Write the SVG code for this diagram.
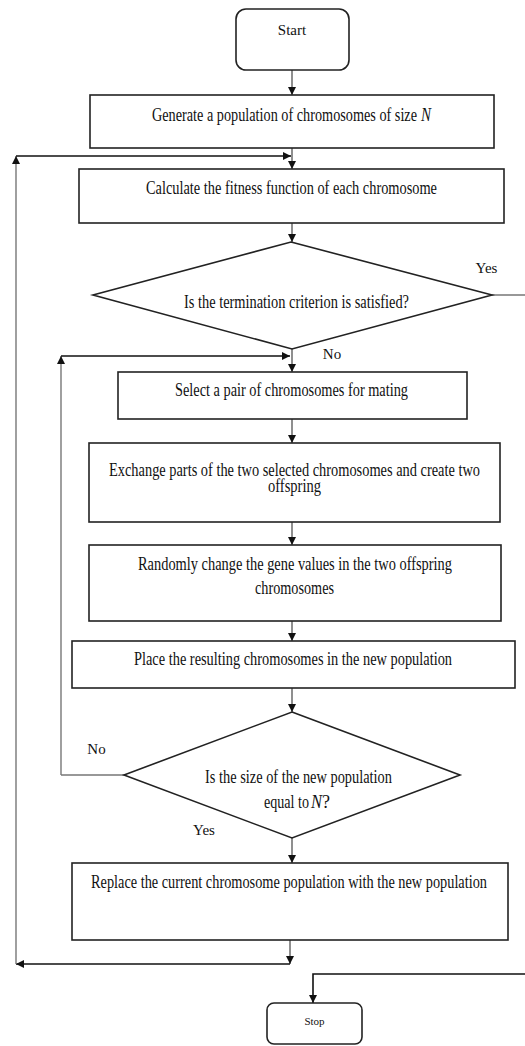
<svg xmlns="http://www.w3.org/2000/svg" width="525" height="1046" viewBox="0 0 525 1046">
<defs>
<style>
.box{fill:#fff;stroke:#222;stroke-width:1.6}
.t{font-family:"Liberation Serif","Times New Roman",serif;font-size:18px;fill:#111;text-anchor:middle}
.s{font-family:"Liberation Serif","Times New Roman",serif;font-size:18px;fill:#111;text-anchor:start}
.lbl{font-family:"Liberation Serif","Times New Roman",serif;font-size:15px;fill:#111;text-anchor:middle}
.c{fill:none;stroke:#333;stroke-width:1.1}
.k{fill:none;stroke:#111;stroke-width:1.6}
.g{fill:none;stroke:#777;stroke-width:1.4}
</style>
<marker id="ah" viewBox="0 0 10 10" refX="10" refY="5" markerWidth="8" markerHeight="8" markerUnits="userSpaceOnUse" orient="auto">
<path d="M0,0 L10,5 L0,10 Z" fill="#111"/>
</marker>
</defs>
<rect width="525" height="1046" fill="#fff"/>

<g id="connectors">
<line class="c" x1="292" y1="70" x2="292" y2="95" marker-end="url(#ah)"/>
<line class="c" x1="292" y1="148" x2="292" y2="169" marker-end="url(#ah)"/>
<line class="c" x1="292" y1="223" x2="292" y2="242" marker-end="url(#ah)"/>
<line class="c" x1="292" y1="349" x2="292" y2="372" marker-end="url(#ah)"/>
<line class="c" x1="292" y1="419" x2="292" y2="443" marker-end="url(#ah)"/>
<line class="c" x1="292" y1="522" x2="292" y2="545" marker-end="url(#ah)"/>
<line class="c" x1="292" y1="621" x2="292" y2="641" marker-end="url(#ah)"/>
<line class="c" x1="292" y1="688" x2="292" y2="712" marker-end="url(#ah)"/>
<line class="c" x1="292" y1="838" x2="292" y2="863" marker-end="url(#ah)"/>
<line class="c" x1="290" y1="940" x2="290" y2="964" marker-end="url(#ah)"/>
<!-- outer loop -->
<line class="k" x1="290" y1="964" x2="16" y2="964" marker-end="url(#ah)"/>
<line class="g" x1="16" y1="964" x2="16" y2="156" marker-end="url(#ah)"/>
<line class="k" x1="16" y1="156" x2="291" y2="156" marker-end="url(#ah)"/>
<!-- inner loop -->
<line class="c" x1="124" y1="775" x2="61" y2="775"/>
<line class="g" x1="61" y1="775" x2="61" y2="356" marker-end="url(#ah)"/>
<line class="k" x1="61" y1="356" x2="290" y2="356" marker-end="url(#ah)"/>
<!-- yes to stop -->
<path class="c" d="M492,295 H525"/>
<path class="k" d="M525,974 H313 V1003" marker-end="url(#ah)"/>
</g>

<g id="start">
<rect class="box" x="236" y="9" width="113" height="61" rx="10"/>
<text class="lbl" x="292" y="35">Start</text>
</g>
<g id="generate">
<rect class="box" x="90" y="95" width="404" height="53"/>
<text class="s" x="152" y="121" textLength="265" lengthAdjust="spacingAndGlyphs">Generate a population of chromosomes of size</text>
<text class="s" x="421" y="121" font-style="italic" textLength="10" lengthAdjust="spacingAndGlyphs">N</text>
</g>
<g id="fitness">
<rect class="box" x="79" y="169" width="425" height="54"/>
<text class="t" x="291.5" y="194" textLength="291" lengthAdjust="spacingAndGlyphs">Calculate the fitness function of each chromosome</text>
</g>
<g id="termination">
<polygon class="box" points="291,242 492,295 292,349 93,295"/>
<text class="t" x="296.5" y="308" textLength="225" lengthAdjust="spacingAndGlyphs">Is the termination criterion is satisfied?</text>
<text class="lbl" x="486.5" y="273">Yes</text>
<text class="lbl" x="332" y="359">No</text>
</g>
<g id="select">
<rect class="box" x="118" y="372" width="349" height="47"/>
<text class="t" x="291.5" y="396" textLength="233" lengthAdjust="spacingAndGlyphs">Select a pair of chromosomes for mating</text>
</g>
<g id="crossover">
<rect class="box" x="89" y="443" width="411" height="79"/>
<text class="t" x="294.5" y="476" textLength="371" lengthAdjust="spacingAndGlyphs">Exchange parts of the two selected chromosomes and create two</text>
<text class="t" x="294.5" y="492" textLength="53" lengthAdjust="spacingAndGlyphs">offspring</text>
</g>
<g id="mutation">
<rect class="box" x="89" y="545" width="412" height="76"/>
<text class="t" x="295" y="570" textLength="314" lengthAdjust="spacingAndGlyphs">Randomly change the gene values in the two offspring</text>
<text class="t" x="294.5" y="594" textLength="79" lengthAdjust="spacingAndGlyphs">chromosomes</text>
</g>
<g id="place">
<rect class="box" x="72" y="641" width="443" height="47"/>
<text class="t" x="293" y="665" textLength="318" lengthAdjust="spacingAndGlyphs">Place the resulting chromosomes in the new population</text>
</g>
<g id="sizecheck">
<polygon class="box" points="292,712 460,775 292,838 124,775"/>
<text class="t" x="298.5" y="783" textLength="187" lengthAdjust="spacingAndGlyphs">Is the size of the new population</text>
<text class="s" x="264" y="808" textLength="45" lengthAdjust="spacingAndGlyphs">equal to</text>
<text class="s" x="311" y="808" font-style="italic" textLength="11" lengthAdjust="spacingAndGlyphs">N</text>
<text class="s" x="322" y="808" textLength="8" lengthAdjust="spacingAndGlyphs">?</text>
<text class="lbl" x="96.5" y="754">No</text>
<text class="lbl" x="204" y="835">Yes</text>
</g>
<g id="replace">
<rect class="box" x="72" y="863" width="436" height="77"/>
<text class="t" x="289" y="888" textLength="396" lengthAdjust="spacingAndGlyphs">Replace the current chromosome population with the new population</text>
</g>
<g id="stop">
<rect class="box" x="267" y="1003" width="95" height="41" rx="7"/>
<text class="lbl" x="314.5" y="1025" style="font-size:11px">Stop</text>
</g>
</svg>
